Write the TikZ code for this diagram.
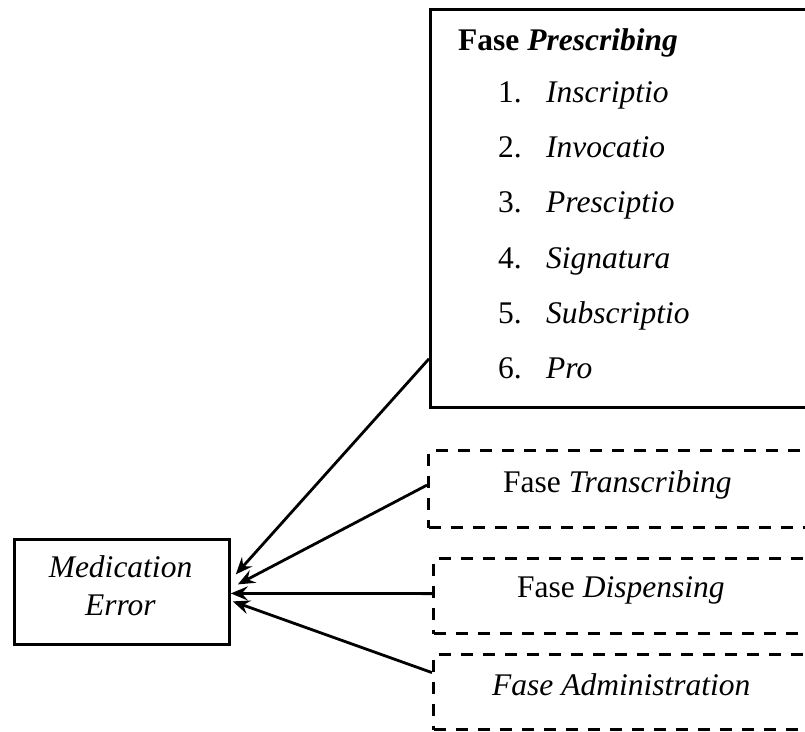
\documentclass[tikz,border=0pt]{standalone}
\usepackage{fontspec}
\setmainfont{Liberation Serif}
\usetikzlibrary{arrows.meta}
\begin{document}
\begin{tikzpicture}[x=1pt,y=-1pt,
  txt/.style={font=\fontsize{31.5}{38}\selectfont, inner sep=0pt, anchor=base west},
  solidbox/.style={draw, line width=2.8pt, anchor=north west, inner sep=0pt},
  dashbox/.style={draw, line width=3.2pt, dash pattern=on 12pt off 10pt, anchor=north west, inner sep=0pt},
  arr/.style={line width=2.8pt, -{Stealth[length=17pt,width=14pt,inset=6pt]}}
]
\useasboundingbox (0,0) rectangle (805,731);
\clip (0,0) rectangle (805,731);
% boxes
\node[solidbox, minimum width=400pt, minimum height=398pt] (presc) at (429,8) {};
\node[dashbox, minimum width=400pt, minimum height=77pt] (trans) at (427,449) {};
\node[dashbox, minimum width=400pt, minimum height=75pt] (disp) at (432,557) {};
\node[dashbox, minimum width=400pt, minimum height=75pt] (adm) at (432,653) {};
\node[solidbox, minimum width=215pt, minimum height=105pt] (med) at (13,538) {};
% texts
\node[txt] (ptitle) at (458,50) {\textbf{Fase \textit{Prescribing}}};
\node[txt] (n1) at (498,102) {1.};
\node[txt] (i1) at (546,102) {\textit{Inscriptio}};
\node[txt] (n2) at (498,157) {2.};
\node[txt] (i2) at (546,157) {\textit{Invocatio}};
\node[txt] (n3) at (498,212) {3.};
\node[txt] (i3) at (546,212) {\textit{Presciptio}};
\node[txt] (n4) at (498,268) {4.};
\node[txt] (i4) at (546,268) {\textit{Signatura}};
\node[txt] (n5) at (498,323) {5.};
\node[txt] (i5) at (546,323) {\textit{Subscriptio}};
\node[txt] (n6) at (498,378) {6.};
\node[txt] (i6) at (546,378) {\textit{Pro}};
\node[txt] (ttrans) at (503,492) {Fase \textit{Transcribing}};
\node[txt] (tdisp) at (517,597) {Fase \textit{Dispensing}};
\node[txt] (tadm) at (492,695) {\textit{Fase Administration}};
\node[txt, anchor=base] (tmed1) at (120.5,577) {\textit{Medication}};
\node[txt, anchor=base] (tmed2) at (120.5,615) {\textit{Error}};
% arrows
\draw[arr] ([yshift=50pt]presc.south west) -- ([xshift=5pt,yshift=17.5pt]med.east);
\draw[arr] ([yshift=4pt]trans.west) -- ([xshift=7pt,yshift=7.5pt]med.east);
\draw[arr] ([yshift=2.5pt]disp.west) -- ([yshift=-1.5pt]med.east);
\draw[arr] ([yshift=19.5pt]adm.west) -- ([xshift=2pt,yshift=-9.5pt]med.east);
\end{tikzpicture}
\end{document}
